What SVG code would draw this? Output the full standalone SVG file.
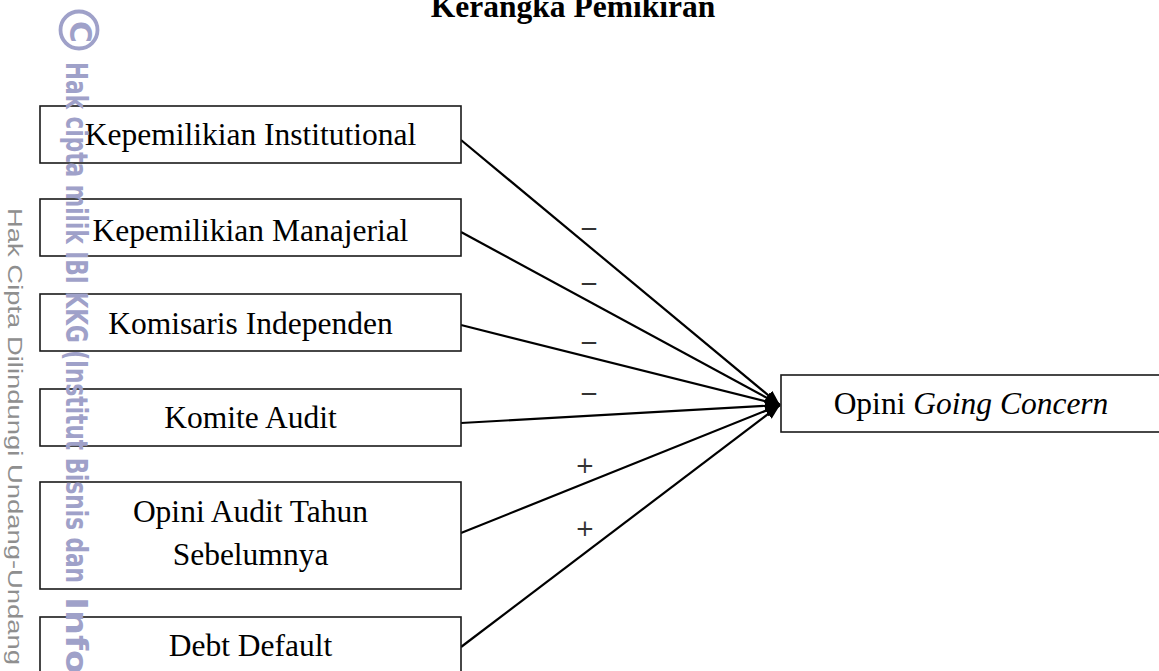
<svg xmlns="http://www.w3.org/2000/svg" width="1159" height="671" viewBox="0 0 1159 671">
<style>
.box{fill:#fff;stroke:#1a1a1a;stroke-width:1.6}
.lbl{font-family:"Liberation Serif","Times New Roman",serif;font-size:31.5px;fill:#000;text-anchor:middle}
.conn{stroke:#000;stroke-width:2.2;fill:none}
.sign{font-family:"DejaVu Sans",sans-serif;font-size:23px;fill:#333;text-anchor:middle}
.wm1{font-family:"DejaVu Sans",sans-serif;font-weight:bold;font-size:30px;fill:#9fa1c9}
.wm2{font-family:"Liberation Sans",Arial,sans-serif;font-size:21px;fill:#8f8f8f}
</style>
<defs>
<marker id="ah" markerUnits="userSpaceOnUse" markerWidth="18" markerHeight="14" refX="15" refY="6" orient="auto">
<path d="M0,0 L15,6 L0,12 z" fill="#000"/>
</marker>
</defs>
<rect width="1159" height="671" fill="#fff"/>
<text x="573" y="17" font-family="Liberation Serif,'Times New Roman',serif" font-weight="bold" font-size="31.5" text-anchor="middle">Kerangka Pemikiran</text>
<g id="connectors">
<line class="conn" x1="461" y1="140" x2="780" y2="405" marker-end="url(#ah)"/>
<line class="conn" x1="461" y1="232" x2="780" y2="405" marker-end="url(#ah)"/>
<line class="conn" x1="461" y1="325" x2="780" y2="405" marker-end="url(#ah)"/>
<line class="conn" x1="461" y1="423" x2="780" y2="405" marker-end="url(#ah)"/>
<line class="conn" x1="461" y1="533" x2="780" y2="405" marker-end="url(#ah)"/>
<line class="conn" x1="461" y1="647" x2="780" y2="405" marker-end="url(#ah)"/>
<text class="sign" x="589" y="236">−</text>
<text class="sign" x="589" y="291">−</text>
<text class="sign" x="589" y="350">−</text>
<text class="sign" x="589" y="401">−</text>
<text class="sign" x="585" y="473">+</text>
<text class="sign" x="585" y="536">+</text>
</g>
<g id="n1"><rect class="box" x="40" y="106" width="421" height="57"/><text class="lbl" x="250.5" y="145">Kepemilikian Institutional</text></g>
<g id="n2"><rect class="box" x="40" y="199" width="421" height="57"/><text class="lbl" x="250.5" y="241">Kepemilikian Manajerial</text></g>
<g id="n3"><rect class="box" x="40" y="294" width="421" height="57"/><text class="lbl" x="250.5" y="334">Komisaris Independen</text></g>
<g id="n4"><rect class="box" x="40" y="389" width="421" height="57"/><text class="lbl" x="250.5" y="428">Komite Audit</text></g>
<g id="n5"><rect class="box" x="40" y="482" width="421" height="107"/><text class="lbl" x="250.5" y="522">Opini Audit Tahun</text><text class="lbl" x="250.5" y="565">Sebelumnya</text></g>
<g id="n6"><rect class="box" x="40" y="617" width="421" height="80"/><text class="lbl" x="250.5" y="656">Debt Default</text></g>
<g id="target"><rect class="box" x="781" y="375" width="400" height="57"/><text class="lbl" x="971" y="414">Opini <tspan font-style="italic">Going Concern</tspan></text></g>
<g id="watermark">
<circle cx="79" cy="30" r="18.5" fill="none" stroke="#9fa1c9" stroke-width="3.8"/>
<text class="wm1" transform="translate(70,21) rotate(90)" font-size="27">C</text>
<text class="wm1" transform="translate(66,62) rotate(90)" textLength="521" lengthAdjust="spacingAndGlyphs">Hak cipta milik IBI KKG (Institut Bisnis dan</text>
<text class="wm1" transform="translate(66,597) rotate(90)" textLength="230" lengthAdjust="spacingAndGlyphs">Informatika</text>
<text class="wm2" transform="translate(8,208) rotate(90)" textLength="457" lengthAdjust="spacingAndGlyphs">Hak Cipta Dilindungi Undang-Undang</text>
</g>
</svg>
